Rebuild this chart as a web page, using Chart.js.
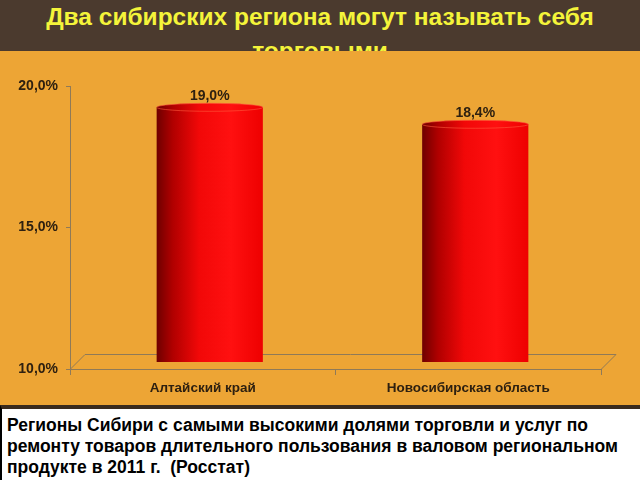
<!DOCTYPE html>
<html>
<head>
<meta charset="utf-8">
<script src="https://cdn.jsdelivr.net/npm/chart.js@4"></script>
<style>
    html, body { margin: 0; padding: 0; width: 640px; height: 480px; overflow: hidden; background: #eda535; }
    #header {
        position: absolute; left: 0; top: 0; width: 640px; height: 51px; overflow: hidden;
        background: #4b3a2e; color: #f4f43a; text-align: center;
        font: bold 24.5px "Liberation Sans", Arial, sans-serif; line-height: 34px; padding-top: 0; box-sizing: border-box;
    }
    #chartBox { position: absolute; left: 0; top: 51px; width: 640px; height: 354px; }
    #footer {
        position: absolute; left: 0; top: 405px; width: 640px; height: 75px; box-sizing: border-box;
        background: #fff; border-top: 4px solid #3a2b1e; border-left: 2px solid #000;
        color: #000; font: bold 17.5px "Liberation Sans", Arial, sans-serif; line-height: 21px; padding: 6px 0 0 5px;
        white-space: nowrap;
    }
</style>
</head>
<body>
<div id="header">Два сибирских региона могут называть себя<br>торговыми</div>
<div id="chartBox"><canvas id="myChart"></canvas></div>
<div id="footer">Регионы Сибири с самыми высокими долями торговли и услуг по<br>ремонту товаров длительного пользования в валовом региональном<br>продукте в 2011 г.&nbsp; (Росстат)</div>
<script>
'use strict';

// DATA
// ======================
var labels = ['Алтайский край', 'Новосибирская область'];
var shares = [19.0, 18.4];
var yTicks = [10, 15, 20];

var DEPTH = 15;      // floor depth, px
var SHIFT = 7;       // bars sit in the middle of the floor
var textColor = '#2e2010';
var lineColor = '#8f7a58';
var fontFamily = '"Liberation Sans", Arial, sans-serif';

var fmt = function (v) {
    return v.toFixed(1).replace('.', ',') + '%';
};

var redGradient = function (c, x0, x1) {
    var g = c.createLinearGradient(x0, 0, x1, 0);
    g.addColorStop(0, '#6e0000');
    g.addColorStop(0.15, '#b00000');
    g.addColorStop(0.4, '#f20808');
    g.addColorStop(0.7, '#ff1010');
    g.addColorStop(1, '#ee0000');
    return g;
};

// PLUGINS
// ======================
var floorPlugin = {
    id: 'floor',
    beforeDatasetsDraw: function (chart) {
        var c = chart.ctx, a = chart.chartArea;
        c.save();
        c.strokeStyle = lineColor;
        c.lineWidth = 1;
        c.beginPath();
        c.moveTo(a.left, a.bottom + 0.5);
        c.lineTo(a.left + DEPTH, a.bottom - DEPTH + 0.5);
        c.lineTo(a.right + DEPTH, a.bottom - DEPTH + 0.5);
        c.lineTo(a.right, a.bottom + 0.5);
        c.stroke();
        c.restore();
        // push the bars back into the floor
        c.save();
        c.translate(SHIFT, -SHIFT);
    },
    afterDatasetsDraw: function (chart) {
        var c = chart.ctx;
        var meta = chart.getDatasetMeta(0);
        meta.data.forEach(function (bar) {
            var half = bar.width / 2;
            c.fillStyle = redGradient(c, bar.x - half, bar.x + half);
            // rounded bottom
            c.beginPath();
            c.ellipse(bar.x, bar.base, half, 3, 0, 0, Math.PI);
            c.fill();
            // top cap
            c.beginPath();
            c.ellipse(bar.x, bar.y, half, 4, 0, 0, Math.PI * 2);
            c.fill();
            c.strokeStyle = 'rgba(255,90,60,0.6)';
            c.lineWidth = 1;
            c.stroke();
        });
        c.restore();

        // value labels
        c.save();
        c.fillStyle = textColor;
        c.font = 'bold 14px ' + fontFamily;
        c.textAlign = 'center';
        c.textBaseline = 'middle';
        meta.data.forEach(function (bar, i) {
            c.fillText(fmt(shares[i]), bar.x + SHIFT, bar.y - 18);
        });
        c.restore();
    }
};

// CHART
// ======================
var ctx = document.getElementById('myChart');
var myChart = new Chart(ctx, {
    type: 'bar',
    data: {
        labels: labels,
        datasets: [{
            data: shares,
            backgroundColor: function (context) {
                var chart = context.chart;
                var xs = chart.scales.x;
                if (!xs || !chart.chartArea) {
                    return '#ee0000';
                }
                var cx = xs.getPixelForValue(context.dataIndex);
                var half = xs.width / labels.length * 0.4 / 2;
                return redGradient(chart.ctx, cx - half, cx + half);
            },
            borderWidth: 0,
            categoryPercentage: 1,
            barPercentage: 0.4
        }]
    },
    options: {
        responsive: true,
        maintainAspectRatio: false,
        animation: false,
        layout: { padding: { top: 35, right: 39, left: 0, bottom: 0 } },
        plugins: {
            legend: { display: false },
            tooltip: { enabled: false }
        },
        scales: {
            x: {
                grid: { drawOnChartArea: false, color: lineColor, tickLength: 6 },
                border: { color: lineColor },
                ticks: {
                    color: textColor,
                    padding: 5,
                    font: { family: fontFamily, size: 13.5, weight: 'bold' }
                },
                afterFit: function (scale) { scale.height = 36; }
            },
            y: {
                min: yTicks[0],
                max: yTicks[yTicks.length - 1],
                afterBuildTicks: function (scale) {
                    scale.ticks = yTicks.map(function (v) { return { value: v }; });
                },
                grid: { drawOnChartArea: false, color: lineColor, tickLength: 4 },
                border: { color: lineColor },
                ticks: {
                    color: textColor,
                    padding: 8,
                    font: { family: fontFamily, size: 14, weight: 'bold' },
                    callback: function (v) { return fmt(v); }
                },
                afterFit: function (scale) { scale.width = 70; }
            }
        }
    },
    plugins: [floorPlugin]
});
</script>
</body>
</html>
